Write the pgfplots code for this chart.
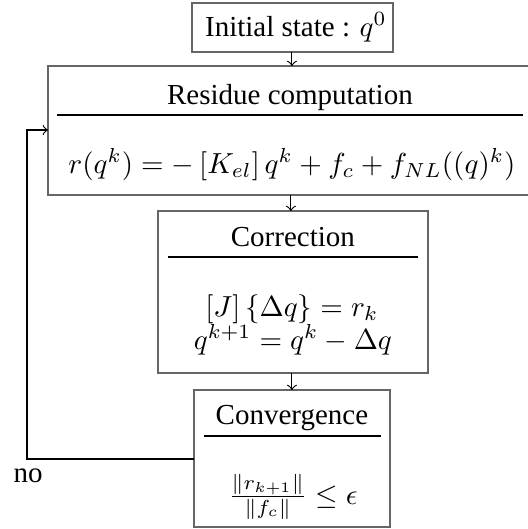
\documentclass[border=0pt]{standalone}
\usepackage[no-math]{fontspec}
\setmainfont{Liberation Serif}
\usepackage{pgfplots}
\pgfplotsset{compat=1.18}
\begin{document}
\begin{tikzpicture}[every node/.style={inner sep=0pt}]
\begin{axis}[hide axis, scale only axis, width=182pt, height=182.4pt,
  xmin=0, xmax=528, ymin=0, ymax=529, y dir=reverse, clip=true,
  boxline/.style={black!60, line width=0.7pt, mark=none, line join=miter},
  rule/.style={black, line width=0.5pt, mark=none},
  arr/.style={black, line width=0.4pt, mark=none, ->}]
% box 1
\addplot[boxline] coordinates {(192,3) (393,3) (393,52) (192,52) (192,3) (393,3)};
% box 2 (cut at the right edge)
\addplot[boxline] coordinates {(545,66) (48,66) (48,195) (545,195)};
\addplot[rule] coordinates {(57,115) (523,115)};
% box 3
\addplot[boxline] coordinates {(158,211) (428,211) (428,373) (158,373) (158,211) (428,211)};
\addplot[rule] coordinates {(168,257) (418,257)};
% box 4
\addplot[boxline] coordinates {(194,390) (390,390) (390,527) (194,527) (194,390) (390,390)};
\addplot[rule] coordinates {(204,436) (381,436)};
% arrows
\addplot[arr] coordinates {(292,52) (292,66)};
\addplot[arr] coordinates {(291,195) (291,211)};
\addplot[arr] coordinates {(292,373) (292,390)};
\addplot[arr] coordinates {(194,459) (27,459) (27,130) (48,130)};
% texts
\node[anchor=base] at (axis cs:296,36) {Initial state : $q^0$};
\node[anchor=base] at (axis cs:290,104) {Residue computation};
\node[anchor=base] at (axis cs:292,173) {$r(q^k) = -\left[K_{el}\right] q^k + f_c + f_{NL}((q)^k)$};
\node[anchor=base] at (axis cs:293,246) {Correction};
\node[anchor=base] at (axis cs:292,316) {$[J]\,\{\Delta q\} = r_k$};
\node[anchor=base] at (axis cs:293,349) {$q^{k+1} = q^k - \Delta q$};
\node[anchor=base] at (axis cs:292,424) {Convergence};
\node[anchor=base] at (axis cs:293,504) {$\frac{\|r_{k+1}\|}{\|f_c\|} \leq \epsilon$};
\node[anchor=base west] at (axis cs:13,482) {no};
\end{axis}
\pgfresetboundingbox
\useasboundingbox (current axis.south west) rectangle (current axis.north east);
\end{tikzpicture}
\end{document}
